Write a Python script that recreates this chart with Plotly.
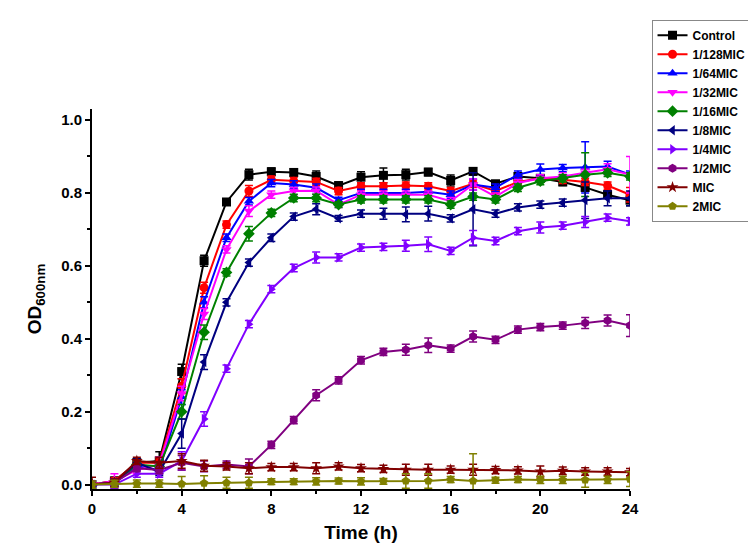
"""Growth curves (OD600) under different MIC fractions."""

import plotly.graph_objects as go

hours = list(range(25))

series_names = ["Control", "1/128MIC", "1/64MIC", "1/32MIC", "1/16MIC",
                "1/8MIC", "1/4MIC", "1/2MIC", "MIC", "2MIC"]

control = [0.0, 0.01, 0.06, 0.065, 0.31, 0.614, 0.775, 0.85, 0.858, 0.856, 0.845, 0.82, 0.843,
           0.848, 0.85, 0.857, 0.834, 0.859, 0.825, 0.845, 0.84, 0.83, 0.815, 0.795, 0.78]
mic_128 = [0.0, 0.01, 0.06, 0.06, 0.27, 0.54, 0.713, 0.805, 0.836, 0.832, 0.83, 0.805, 0.818,
           0.818, 0.82, 0.818, 0.805, 0.825, 0.805, 0.83, 0.84, 0.836, 0.83, 0.82, 0.795]
mic_64 = [0.0, 0.005, 0.05, 0.04, 0.24, 0.5, 0.677, 0.777, 0.827, 0.823, 0.814, 0.78, 0.8,
          0.8, 0.8, 0.803, 0.795, 0.823, 0.814, 0.85, 0.864, 0.868, 0.87, 0.872, 0.85]
mic_32 = [0.0, 0.01, 0.04, 0.055, 0.25, 0.468, 0.645, 0.75, 0.795, 0.805, 0.806, 0.768, 0.795,
          0.795, 0.795, 0.795, 0.777, 0.823, 0.79, 0.827, 0.84, 0.845, 0.855, 0.865, 0.85]
mic_16 = [0.0, 0.005, 0.055, 0.05, 0.2, 0.418, 0.582, 0.688, 0.745, 0.786, 0.786, 0.768, 0.782,
          0.782, 0.782, 0.782, 0.768, 0.79, 0.782, 0.814, 0.832, 0.84, 0.85, 0.855, 0.845]
mic_8 = [0.0, 0.005, 0.06, 0.035, 0.14, 0.336, 0.5, 0.609, 0.677, 0.735, 0.755, 0.73, 0.743,
         0.743, 0.741, 0.743, 0.73, 0.755, 0.743, 0.76, 0.768, 0.773, 0.78, 0.785, 0.785]
mic_4 = [0.0, 0.0, 0.03, 0.03, 0.065, 0.18, 0.318, 0.44, 0.536, 0.594, 0.623, 0.623, 0.65,
         0.652, 0.655, 0.659, 0.641, 0.677, 0.668, 0.695, 0.705, 0.71, 0.72, 0.732, 0.722]
mic_2 = [0.0, 0.005, 0.045, 0.04, 0.06, 0.05, 0.055, 0.05, 0.109, 0.177, 0.245, 0.286, 0.341,
         0.364, 0.37, 0.382, 0.373, 0.406, 0.397, 0.425, 0.432, 0.436, 0.443, 0.45, 0.436]
mic_1 = [0.0, 0.005, 0.065, 0.06, 0.065, 0.052, 0.05, 0.045, 0.048, 0.048, 0.045, 0.05, 0.045,
         0.043, 0.041, 0.041, 0.041, 0.041, 0.04, 0.039, 0.036, 0.038, 0.036, 0.036, 0.034]
mic_x2 = [0.0, 0.002, 0.003, 0.003, 0.002, 0.004, 0.005, 0.005, 0.008, 0.008, 0.009, 0.01, 0.009,
          0.009, 0.01, 0.01, 0.014, 0.01, 0.012, 0.014, 0.013, 0.013, 0.013, 0.013, 0.015]

err_control = [0.01, 0.01, 0.01, 0.025, 0.02, 0.015, 0.008, 0.015, 0.01, 0.01, 0.015, 0.01, 0.015,
               0.02, 0.015, 0.01, 0.015, 0.01, 0.008, 0.01, 0.01, 0.01, 0.01, 0.01, 0.015]
err_128 = [0.01, 0.008, 0.008, 0.01, 0.02, 0.015, 0.01, 0.015, 0.01, 0.01, 0.01, 0.01, 0.01,
           0.01, 0.01, 0.01, 0.01, 0.01, 0.008, 0.01, 0.01, 0.01, 0.01, 0.01, 0.02]
err_64 = [0.01, 0.01, 0.01, 0.01, 0.02, 0.015, 0.01, 0.01, 0.01, 0.01, 0.01, 0.008, 0.01,
          0.01, 0.01, 0.01, 0.01, 0.015, 0.01, 0.01, 0.015, 0.01, 0.07, 0.015, 0.01]
err_32 = [0.01, 0.02, 0.01, 0.02, 0.02, 0.015, 0.01, 0.015, 0.01, 0.01, 0.01, 0.008, 0.01,
          0.01, 0.01, 0.01, 0.01, 0.015, 0.01, 0.01, 0.01, 0.01, 0.01, 0.015, 0.05]
err_16 = [0.01, 0.01, 0.01, 0.01, 0.02, 0.02, 0.01, 0.02, 0.01, 0.01, 0.01, 0.008, 0.01,
          0.01, 0.01, 0.01, 0.01, 0.01, 0.01, 0.01, 0.01, 0.01, 0.06, 0.01, 0.01]
err_8 = [0.01, 0.01, 0.01, 0.01, 0.04, 0.02, 0.01, 0.01, 0.01, 0.01, 0.015, 0.008, 0.01,
         0.015, 0.02, 0.02, 0.01, 0.1, 0.01, 0.01, 0.01, 0.01, 0.05, 0.02, 0.02]
err_4 = [0.01, 0.01, 0.01, 0.01, 0.025, 0.02, 0.01, 0.01, 0.01, 0.01, 0.015, 0.01, 0.01,
         0.01, 0.015, 0.02, 0.01, 0.02, 0.01, 0.01, 0.015, 0.01, 0.015, 0.01, 0.01]
err_2 = [0.01, 0.01, 0.01, 0.01, 0.02, 0.015, 0.01, 0.02, 0.01, 0.01, 0.015, 0.01, 0.01,
         0.01, 0.015, 0.02, 0.01, 0.015, 0.01, 0.01, 0.01, 0.01, 0.015, 0.015, 0.03]
err_1 = [0.02, 0.01, 0.01, 0.015, 0.02, 0.015, 0.01, 0.015, 0.01, 0.01, 0.015, 0.01, 0.01,
         0.01, 0.015, 0.015, 0.01, 0.015, 0.01, 0.01, 0.015, 0.01, 0.01, 0.01, 0.01]
err_x2 = [0.01, 0.01, 0.01, 0.01, 0.02, 0.02, 0.015, 0.015, 0.008, 0.008, 0.01, 0.008, 0.01,
          0.008, 0.02, 0.02, 0.008, 0.075, 0.008, 0.008, 0.01, 0.01, 0.02, 0.01, 0.02]

values = [control, mic_128, mic_64, mic_32, mic_16, mic_8, mic_4, mic_2, mic_1, mic_x2]
errors = [err_control, err_128, err_64, err_32, err_16, err_8, err_4, err_2, err_1, err_x2]
colors = ["#000000", "#FF0000", "#0000FF", "#FF00FF", "#008000",
          "#000080", "#8000FF", "#800080", "#800000", "#808000"]
symbols = ["square", "circle", "triangle-up", "triangle-down", "diamond",
           "triangle-left", "triangle-right", "hexagon", "star", "pentagon"]

FONT = "Liberation Sans, Arial, sans-serif"

fig = go.Figure()
for name, ys, err, color, symbol in zip(series_names, values, errors, colors, symbols):
    fig.add_trace(go.Scatter(
        x=hours, y=ys, name=name, mode="lines+markers",
        line=dict(color=color, width=2),
        marker=dict(symbol=symbol, size=9, color=color),
        error_y=dict(type="data", array=err, color=color, thickness=1.5, width=4),
    ))

fig.update_layout(
    width=756, height=559,
    margin=dict(l=84, r=122, t=99, b=78),
    plot_bgcolor="white", paper_bgcolor="white",
    font=dict(family=FONT, color="black"),
    showlegend=True,
    legend=dict(
        x=1.04, y=1.235, xanchor="left", yanchor="top",
        bordercolor="#888888", borderwidth=1, bgcolor="white",
        font=dict(size=12, family=FONT, weight="bold"),
        tracegroupgap=0,
    ),
)
fig.update_xaxes(
    range=[0, 24], tickvals=[0, 4, 8, 12, 16, 20, 24],
    showline=True, linecolor="black", linewidth=2,
    ticks="outside", ticklen=5, tickwidth=2, tickcolor="black",
    minor=dict(dtick=2, ticks="outside", ticklen=3, tickwidth=2, tickcolor="black"),
    showgrid=False, zeroline=False,
    tickfont=dict(size=15, weight="bold"),
    title=dict(text="Time (h)", font=dict(size=19, weight="bold"), standoff=10),
)
fig.update_yaxes(
    range=[-0.012, 1.03], tickvals=[0.0, 0.2, 0.4, 0.6, 0.8, 1.0], tickformat=".1f",
    showline=True, linecolor="black", linewidth=2,
    ticks="outside", ticklen=5, tickwidth=2, tickcolor="black",
    minor=dict(dtick=0.1, ticks="outside", ticklen=3, tickwidth=2, tickcolor="black"),
    showgrid=False, zeroline=False,
    tickfont=dict(size=15, weight="bold"),
    title=dict(text="OD<sub>600nm</sub>", font=dict(size=19, weight="bold"), standoff=14),
)

fig.write_html("out.html")
